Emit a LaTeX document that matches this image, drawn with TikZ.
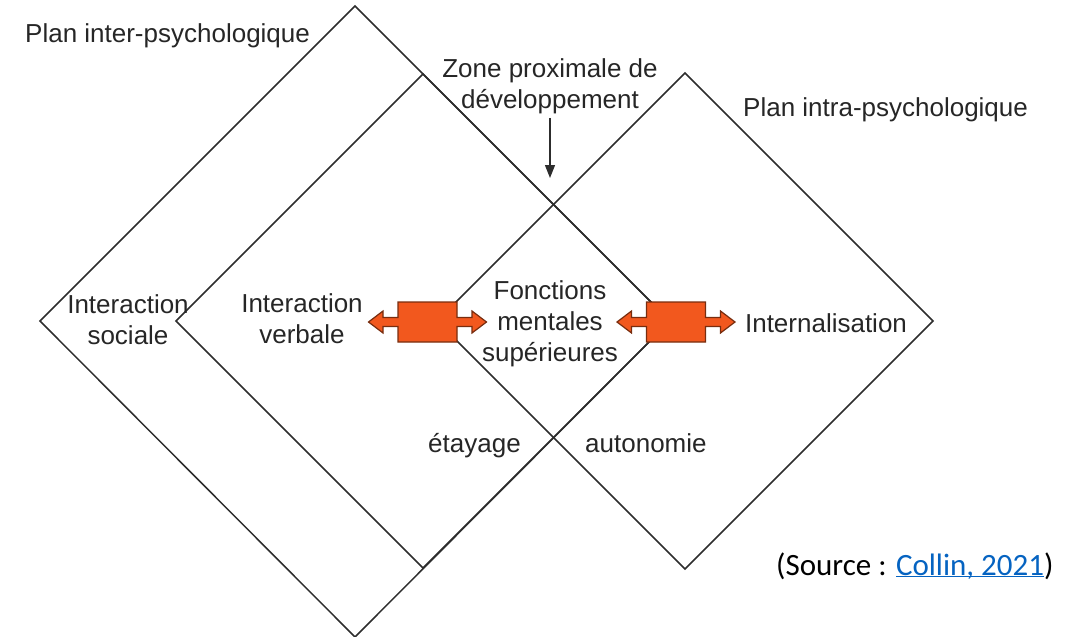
\documentclass[tikz,border=0pt]{standalone}
\usepackage{fontspec}
\setmainfont{Liberation Sans}
\newfontfamily\srcfont{Carlito}
\usetikzlibrary{arrows.meta}
\definecolor{orangebox}{RGB}{242,88,30}
\definecolor{orangeline}{RGB}{120,45,15}
\definecolor{linegray}{RGB}{45,45,45}
\definecolor{linkblue}{RGB}{5,99,193}

\begin{document}
\begin{tikzpicture}[x=1pt,y=-1pt]
\tikzstyle{every node}+=[inner sep=0pt, text=black!85, font=\fontsize{26}{31}\selectfont]
\tikzstyle{plan}=[draw=linegray, line width=1.5pt]
\tikzstyle{bigarrow}=[fill=orangebox, draw=orangeline, line width=1.2pt, line join=miter]
\useasboundingbox (0,0) rectangle (1066,637);
% plans
\draw [plan] (355,6) -- (670,321) -- (355,637) -- (40,321) -- cycle;
\draw [plan] (423,74) -- (670,321) -- (423,568) -- (176,321) -- cycle;
\draw [plan] (685,73) -- (933,321) -- (685,569) -- (437,321) -- cycle;
% labels
\node (inter) [anchor=base west] at (25,42) {Plan inter-psychologique};
\node (intra) [anchor=base west] at (743,116) {Plan intra-psychologique};
\node (zone) [align=center] at (550,86) {Zone proximale de\\développement};
\node (sociale) [align=center] at (128,320) {Interaction\\sociale};
\node (verbale) [align=center] at (302,319) {Interaction\\verbale};
\node (fonctions) [align=center] at (550,324) {Fonctions\\mentales\\supérieures};
\node (internal) [anchor=base] at (826,332) {Internalisation};
\node (etayage) [anchor=base west] at (428,452) {étayage};
\node (autonomie) [anchor=base west] at (585,452) {autonomie};
\node (source) [anchor=base west, text=black, font=\srcfont\fontsize{31}{37}\selectfont] at (776,575)
  {(Source : \textcolor{linkblue}{\underline{Collin\smash{,} 2021}})};
% zone arrow
\coordinate (zpd) at (550,178);
\draw [draw=linegray, line width=1.3pt, -{Triangle[length=13pt,width=10pt]}, shorten <=4pt] (zone.south) -- (zpd);
% double arrows
\foreach \cx in {427.5,676}
  \filldraw [bigarrow, shift={(\cx,322)}] (-59,0) -- (-44.5,-11) -- (-44.5,-4.5) -- (-29.5,-4.5)
    -- (-29.5,-20) -- (29.5,-20) -- (29.5,-4.5) -- (44.5,-4.5) -- (44.5,-11) -- (59,0)
    -- (44.5,11) -- (44.5,4.5) -- (29.5,4.5) -- (29.5,20) -- (-29.5,20) -- (-29.5,4.5)
    -- (-44.5,4.5) -- (-44.5,11) -- cycle;
\end{tikzpicture}
\end{document}
